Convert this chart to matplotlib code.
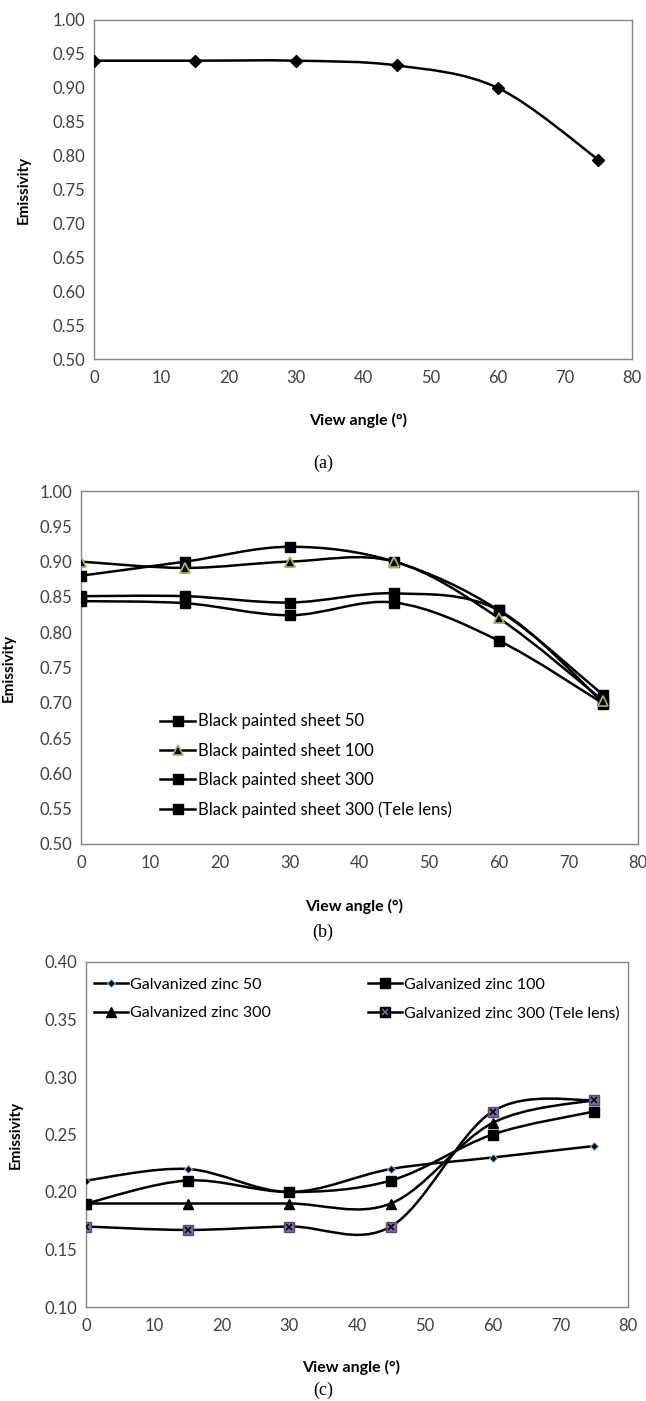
import numpy as np
import matplotlib
matplotlib.use("Agg")
import matplotlib.pyplot as plt
from matplotlib.path import Path
from matplotlib.patches import PathPatch
from matplotlib.lines import Line2D
from matplotlib.legend_handler import HandlerTuple

plt.rcParams.update({
    'font.family': ['Lato', 'DejaVu Sans'],
    'font.size': 12,
    'axes.edgecolor': '#868686',
    'axes.linewidth': 1.0,
    'xtick.major.size': 0,
    'ytick.major.size': 0,
    'xtick.color': '#404040',
    'ytick.color': '#404040',
})

# view angles (deg)
angles = [0, 15, 30, 45, 60, 75]

# (a) single series
emis_a = [0.94, 0.94, 0.94, 0.933, 0.90, 0.794]

# (b) black painted sheet
bp_labels = ['Black painted sheet 50', 'Black painted sheet 100',
             'Black painted sheet 300', 'Black painted sheet 300 (Tele lens)']
bp_50 = [0.88, 0.90, 0.921, 0.90, 0.831, 0.711]
bp_100 = [0.90, 0.891, 0.90, 0.90, 0.82, 0.703]
bp_300 = [0.851, 0.851, 0.842, 0.855, 0.831, 0.70]
bp_300t = [0.844, 0.841, 0.824, 0.842, 0.788, 0.699]

# (c) galvanized zinc
gz_labels = ['Galvanized zinc 50', 'Galvanized zinc 100',
             'Galvanized zinc 300', 'Galvanized zinc 300 (Tele lens)']
gz_50 = [0.21, 0.22, 0.20, 0.22, 0.23, 0.24]
gz_100 = [0.19, 0.21, 0.20, 0.21, 0.25, 0.27]
gz_300 = [0.19, 0.19, 0.19, 0.19, 0.26, 0.28]
gz_300t = [0.17, 0.167, 0.17, 0.17, 0.27, 0.28]

W, H = 646, 1401


def axes_px(fig, left, right, top, bottom):
    return fig.add_axes([left / W, 1 - bottom / H, (right - left) / W, (bottom - top) / H])


def smooth_line(ax, x, y, lw=1.8, color='black'):
    """Excel-style smoothed line: cubic bezier through the points."""
    p = np.column_stack([x, y]).astype(float)
    ext = np.vstack([p[0], p, p[-1]])
    verts = [p[0]]
    codes = [Path.MOVETO]
    for i in range(len(p) - 1):
        c1 = ext[i + 1] + (ext[i + 2] - ext[i]) / 6.0
        c2 = ext[i + 2] - (ext[i + 3] - ext[i + 1]) / 6.0
        verts += [c1, c2, p[i + 1]]
        codes += [Path.CURVE4] * 3
    ax.add_patch(PathPatch(Path(verts, codes), fc='none', ec=color, lw=lw,
                           zorder=2, capstyle='round', joinstyle='round'))


def style_axes(ax, ylo, yhi):
    ax.set_xlim(0, 80)
    ax.set_ylim(ylo, yhi)
    ax.set_xticks(range(0, 81, 10))
    ax.set_yticks(np.arange(ylo, yhi + 1e-9, 0.05))
    ax.yaxis.set_major_formatter(matplotlib.ticker.FormatStrFormatter('%.2f'))
    ax.tick_params(axis='x', pad=8)
    ax.tick_params(axis='y', pad=6)
    ax.set_ylabel('Emissivity', fontweight='bold', fontsize=11, color='black')
    ax.set_xlabel('View angle (°)', fontweight='bold', fontsize=11.5, color='black')
    ax.yaxis.set_label_coords(-0.117, 0.5)


fig = plt.figure(figsize=(W / 100, H / 100), dpi=100)

# ---- (a)
ax1 = axes_px(fig, 94, 632, 20, 359)
smooth_line(ax1, angles, emis_a)
ax1.plot(angles, emis_a, ls='none', marker='D', ms=6, color='black', zorder=3)
style_axes(ax1, 0.50, 1.00)
ax1.xaxis.set_label_coords(0.49, -0.159)

# ---- (b)
ax2 = axes_px(fig, 81, 638, 491, 844)
green = '#9BBB59'
b_series = [bp_50, bp_100, bp_300, bp_300t]
b_marks = [dict(marker='s', ms=6.5, mfc='black', mec='black'),
           dict(marker='^', ms=6.5, mfc='black', mec=green, mew=1.2),
           dict(marker='s', ms=6.5, mfc='black', mec='black'),
           dict(marker='s', ms=6.5, mfc='black', mec='black')]
handles = []
for vals, mk in zip(b_series, b_marks):
    smooth_line(ax2, angles, vals)
    ax2.plot(angles, vals, ls='none', zorder=3, **mk)
    handles.append(Line2D([], [], color='black', lw=1.8, **mk))
# triangles on top of the squares
ax2.plot(angles, bp_100, ls='none', zorder=4, **b_marks[1])
style_axes(ax2, 0.50, 1.00)
ax2.xaxis.set_label_coords(0.49, -0.156)
ax2.legend(handles, bp_labels, loc='upper left', bbox_to_anchor=(0.142, 0.37),
           frameon=False, borderpad=0, borderaxespad=0, handlelength=2.1,
           handletextpad=0.15, labelspacing=0.80, fontsize=12)

# ---- (c)
ax3 = axes_px(fig, 86, 628, 962, 1307)
purple = '#7F6A9F'
c_series = [gz_50, gz_100, gz_300, gz_300t]
c_marks = [dict(marker='D', ms=4, mfc='black', mec='#8DB4E2', mew=0.8),
           dict(marker='s', ms=6.5, mfc='black', mec='black'),
           dict(marker='^', ms=6.5, mfc='black', mec='black'),
           dict(marker='s', ms=6.5, mfc=purple, mec='#5C4A7A', mew=1.0)]
for vals, mk in zip(c_series, c_marks):
    smooth_line(ax3, angles, vals)
    ax3.plot(angles, vals, ls='none', zorder=3, **mk)
ax3.plot(angles, gz_300t, ls='none', marker='x', ms=5, mec='black', mew=1.1, zorder=4)
style_axes(ax3, 0.10, 0.40)
ax3.xaxis.set_label_coords(0.49, -0.154)

c_handles = [Line2D([], [], color='black', lw=1.8, **mk) for mk in c_marks[:3]]
tele_sq = Line2D([], [], color='black', lw=1.8, marker='s', ms=6.5, mfc='black', mec='black')
tele_x = Line2D([], [], ls='none', marker='x', ms=4.5, mec=purple, mew=1.1)
c_handles.append((tele_sq, tele_x))
# legend fills column-wise: reorder so rows read 50|100 and 300|Tele
order = [0, 2, 1, 3]
ax3.legend([c_handles[i] for i in order], [gz_labels[i] for i in order],
           loc='upper left', bbox_to_anchor=(0.015, 0.955),
           ncol=2, frameon=False, borderpad=0, borderaxespad=0, handlelength=2.1,
           handletextpad=0.15, labelspacing=0.9, columnspacing=6.1, fontsize=11.5,
           handler_map={tuple: HandlerTuple(ndivide=1, pad=0)})

# captions
for txt, y in [('(a)', 463), ('(b)', 932), ('(c)', 1390)]:
    fig.text(323 / W, 1 - y / H, txt, ha='center', va='center',
             family='Liberation Serif', fontsize=13)

fig.savefig('out.png', dpi=100)
